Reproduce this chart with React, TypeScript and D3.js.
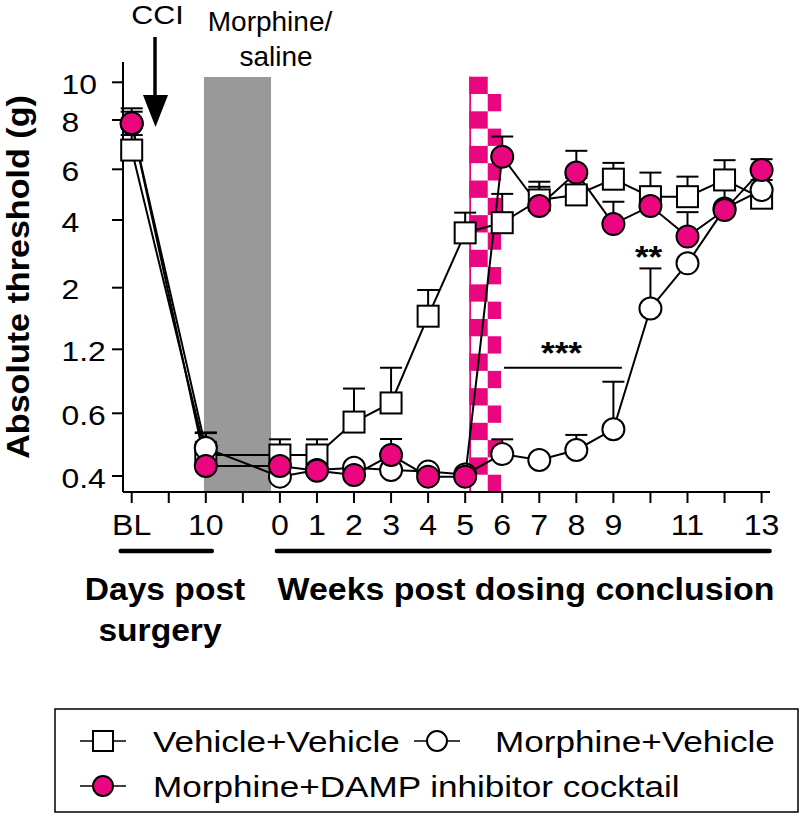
import React from "react";
import * as d3 from "d3";

// x positions: BL, day 10 and weeks 0..13 after dosing (index on an even grid)
const xLabels = ["BL", "", "10", "", "0", "1", "2", "3", "4", "5", "6", "7", "8", "9", "", "11", "", "13"];
const xIndex = [0, 2, 4, 5, 6, 7, 8, 9, 10, 11, 12, 13, 14, 15, 16, 17];
const yTicks = [0.4, 0.6, 1.2, 2, 4, 6, 8, 10];

const vehVeh = [6.78, 0.467, 0.467, 0.467, 0.572, 0.697, 1.63, 3.62, 3.92, 4.79, 4.99, 5.61, 4.92, 4.92, 5.58, 4.86];
const vehVehErr = [0.61, 0.07, 0.05, 0.05, 0.26, 0.33, 0.34, 0.67, 1.11, 0.72, 0.67, 0.65, 0.95, 0.79, 0.79, 0.72];
const morVeh = [7.85, 0.489, 0.398, 0.419, 0.426, 0.419, 0.414, 0.405, 0.47, 0.451, 0.483, 0.549, 1.73, 2.72, 4.45, 5.18];
const morVehErr = [0.59, 0.05, 0, 0, 0, 0, 0, 0, 0.047, 0, 0.048, 0.347, 0.84, 0, 0, 0];
const damp = [7.87, 0.432, 0.432, 0.417, 0.403, 0.467, 0.398, 0.398, 6.51, 4.55, 5.87, 3.88, 4.55, 3.51, 4.39, 5.97];
const dampErr = [0.75, 0.077, 0, 0, 0, 0.051, 0, 0, 0.82, 0.76, 0.88, 0.84, 0.7, 0.8, 0.92, 0.44];

const legendLabels = ["Vehicle+Vehicle", "Morphine+Vehicle", "Morphine+DAMP inhibitor cocktail"];

const PINK = "#ea067f";
const FONT = "'Liberation Sans', Arial, sans-serif";

// text with a horizontal stretch, like the exported figure
const T = ({ x, y, s = 1, anchor = "start", size, bold = false, rot = 0, children }: any) => (
  <g transform={`translate(${x},${y})${rot ? ` rotate(${rot})` : ""} scale(${s},1)`}>
    <text textAnchor={anchor} fontSize={size} fontWeight={bold ? "bold" : "normal"} fontFamily={FONT} fill="#000">
      {children}
    </text>
  </g>
);

const App = () => {
  const x = d3.scaleLinear().domain([0, 17]).range([131.7, 761.6]);
  // the figure's y axis is a filament scale: piecewise between the labelled ticks
  const y = d3.scaleLinear().domain(yTicks).range([476, 413.3, 349.3, 287.7, 220, 169.3, 120, 82.3]);
  const line = d3.line<number>().x((d, i) => x(xIndex[i])).y((d) => y(d));

  const series = [
    { vals: vehVeh, err: vehVehErr, shape: "square", fill: "#fff" },
    { vals: morVeh, err: morVehErr, shape: "circle", fill: "#fff" },
    { vals: damp, err: dampErr, shape: "circle", fill: PINK },
  ];

  const axisY = 492;
  const axisX = 123;
  const r = 11;
  const sq = 21;

  // shaded periods in x-index units
  const gray = [1.95, 3.76];
  const checker = [9.11, 9.97];
  const ckTop = 76.7;
  const ckRows = 24;
  const ckH = (axisY - ckTop) / ckRows;
  const ckX0 = x(checker[0]);
  const ckX1 = x(checker[1]);
  const ckMid = ckX0 + (ckX1 - ckX0) * 0.58;

  const marker = (shape: string, fill: string, cx: number, cy: number, key: any, rr = r, s = sq) =>
    shape === "square" ? (
      <rect key={key} x={cx - s / 2} y={cy - s / 2} width={s} height={s} fill={fill} stroke="#000" strokeWidth={2} />
    ) : (
      <circle key={key} cx={cx} cy={cy} r={rr} fill={fill} stroke="#000" strokeWidth={2} />
    );

  return (
    <svg width={800} height={819} style={{ position: "absolute", left: 0, top: 0, background: "#fff" }}>
      {/* morphine/saline period */}
      <rect x={x(gray[0])} y={77} width={x(gray[1]) - x(gray[0])} height={axisY - 77} fill="#999" />
      {/* checkered treatment marker */}
      {d3.range(ckRows).map((i) => (
        <rect
          key={"ck" + i}
          x={i % 2 === 0 ? ckX0 : ckMid}
          y={ckTop + i * ckH}
          width={i % 2 === 0 ? ckMid - ckX0 : ckX1 - ckMid}
          height={ckH}
          fill={PINK}
        />
      ))}
      <rect x={ckX0} y={ckTop} width={1.8} height={axisY - ckTop} fill={PINK} />

      {/* axes */}
      <line x1={axisX} y1={62} x2={axisX} y2={axisY} stroke="#000" strokeWidth={2} />
      <line x1={axisX} y1={axisY} x2={770} y2={axisY} stroke="#000" strokeWidth={2} />
      {yTicks.map((t) => (
        <g key={"yt" + t}>
          <line x1={axisX - 11} x2={axisX} y1={y(t)} y2={y(t)} stroke="#000" strokeWidth={2} />
          <T x={61.5} y={y(t) + 11.5} s={1.18} size={27}>
            {String(t)}
          </T>
        </g>
      ))}
      {xLabels.map((l, i) => (
        <g key={"xt" + i}>
          <line x1={x(i)} x2={x(i)} y1={axisY} y2={axisY + 11} stroke="#000" strokeWidth={2} />
          {l && (
            <T x={x(i)} y={535} s={1.07} size={30} anchor="middle">
              {l}
            </T>
          )}
        </g>
      ))}

      {/* axis titles */}
      <T x={29} y={277} s={1.1} size={31} bold rot={-90} anchor="middle">
        Absolute threshold (g)
      </T>
      <line x1={x(0) - 11} x2={x(2) + 6} y1={551} y2={551} stroke="#000" strokeWidth={4.5} strokeLinecap="round" />
      <line x1={x(4) - 3} x2={x(17) + 8} y1={551} y2={551} stroke="#000" strokeWidth={4.5} strokeLinecap="round" />
      <T x={165} y={600} s={1.05} size={32} bold anchor="middle">
        Days post
      </T>
      <T x={160} y={641} s={1.05} size={32} bold anchor="middle">
        surgery
      </T>
      <T x={526} y={600} s={1.06} size={32} bold anchor="middle">
        Weeks post dosing conclusion
      </T>

      {/* annotations */}
      <T x={157.5} y={24} s={1.15} size={26.5} anchor="middle">
        CCI
      </T>
      <line x1={155} y1={37} x2={155} y2={100} stroke="#000" strokeWidth={3.5} />
      <path d="M143,95 L168,95 L155.5,127 Z" fill="#000" />
      <T x={270} y={31} size={28} anchor="middle">
        Morphine/
      </T>
      <T x={276} y={66} size={28} anchor="middle">
        saline
      </T>

      {/* series lines */}
      {series.map((s, k) => (
        <path key={"ln" + k} d={line(s.vals) || ""} fill="none" stroke="#000" strokeWidth={2} />
      ))}
      {/* error bars (upper SEM) */}
      {series.map((s, k) =>
        s.vals.map((v, i) =>
          s.err[i] > 0 ? (
            <g key={"eb" + k + "-" + i} stroke="#000" strokeWidth={2}>
              <line x1={x(xIndex[i])} x2={x(xIndex[i])} y1={y(v)} y2={y(v + s.err[i])} />
              <line x1={x(xIndex[i]) - 11} x2={x(xIndex[i]) + 11} y1={y(v + s.err[i])} y2={y(v + s.err[i])} />
            </g>
          ) : null
        )
      )}
      {series.map((s, k) => s.vals.map((v, i) => marker(s.shape, s.fill, x(xIndex[i]), y(v), "mk" + k + "-" + i)))}

      {/* significance */}
      <line x1={x(10.05)} x2={x(13.23)} y1={367.7} y2={367.7} stroke="#000" strokeWidth={2} />
      <T x={x(11.6)} y={364} s={1.1} size={32} bold anchor="middle">
        ***
      </T>
      <T x={x(13.95)} y={268} s={1.1} size={32} bold anchor="middle">
        **
      </T>

      {/* legend */}
      <rect x={55} y={709} width={743} height={103} fill="none" stroke="#000" strokeWidth={1.5} />
      {[
        { s: series[0], cx: 103, cy: 741, tx: 153, ty: 752 },
        { s: series[1], cx: 437, cy: 741, tx: 495, ty: 752 },
        { s: series[2], cx: 103, cy: 786, tx: 153, ty: 797 },
      ].map((l, i) => (
        <g key={"lg" + i}>
          <line x1={l.cx - 23} x2={l.cx + 23} y1={l.cy} y2={l.cy} stroke="#000" strokeWidth={1.5} />
          {marker(l.s.shape, l.s.fill, l.cx, l.cy, "lm" + i, 10, 20)}
          <T x={l.tx} y={l.ty} s={1.17} size={30}>
            {legendLabels[i]}
          </T>
        </g>
      ))}
    </svg>
  );
};

export default App;
